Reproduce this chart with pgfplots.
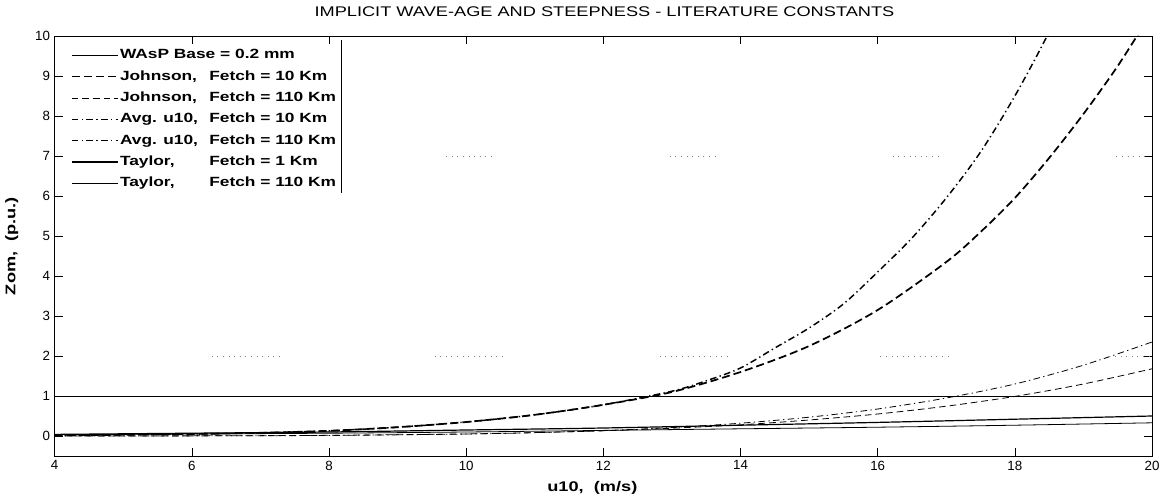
\documentclass[border=0pt]{standalone}
\usepackage{fontspec}
\setmainfont{Liberation Sans}
\newfontfamily\widesans{Liberation Sans}[FakeStretch=1.3]
\usepackage{pgfplots}
\pgfplotsset{compat=1.18}

\begin{document}
\begin{tikzpicture}
\begin{axis}[
    at={(0pt,0pt)}, anchor=south west,
    scale only axis, width=823pt, height=315pt,
    xmin=4, xmax=20, ymin=-0.5, ymax=10,
    xtick={4,6,...,20}, ytick={0,1,...,10},
    tick align=inside, major tick length=6pt,
    tick style={black, line width=0.5pt},
    axis line style={line width=0.6pt},
    unbounded coords=jump,
    /pgf/number format/assume math mode=true,
    tick label style={font=\fontsize{10}{12}\selectfont},
    every axis title shift=0pt,
    title={IMPLICIT WAVE-AGE AND STEEPNESS - LITERATURE CONSTANTS},
    title style={at={(axis description cs:0.501,1.057)}, anchor=center,
        font=\widesans\fontsize{10.5}{12}\selectfont},
    xlabel={u10,\ \ (m/s)},
    ylabel={Zom,\ \ (p.u.)},
    every axis x label/.style={at={(axis description cs:0.49,-0.076)}, anchor=center,
        font=\widesans\bfseries\fontsize{10.5}{12}\selectfont},
    every axis y label/.style={at={(axis description cs:-0.0392,0.5)}, anchor=center, rotate=90,
        font=\widesans\bfseries\fontsize{10.5}{12}\selectfont},
    legend style={at={(0,1)}, anchor=north west, draw=none, fill=none,
        inner xsep=12pt, inner ysep=9pt, row sep=5.5pt,
        font=\widesans\bfseries\fontsize{10}{12}\selectfont,
        nodes={inner xsep=1pt, inner ysep=0.5pt, text height=7.5pt, text depth=2pt}},
    legend cell align=left,
    legend image code/.code={\draw[#1] (0pt,0pt) -- (34.5pt,0pt);},
]

% WAsP base
\addplot[black, line width=0.6pt] coordinates {(4,1) (20,1)};
\addlegendentry{WAsP Base = 0.2 mm}

% Johnson, fetch 10 km
\addplot[black, line width=1.3pt, dash pattern=on 6pt off 3pt, smooth] coordinates {
    (4,0.02) (5,0.03) (6,0.05) (7,0.08) (8,0.13) (9,0.22) (10,0.35) (11,0.53)
    (12,0.78) (13,1.1) (14,1.6) (15,2.25) (16,3.15) (17,4.35) (17.5,5.1)
    (18,5.95) (18.5,6.95) (19,8.05) (19.5,9.25) (20,10.6)};
\addlegendentry{\makebox[67pt][l]{Johnson,}Fetch = 10 Km}

% Johnson, fetch 110 km
\addplot[black, line width=0.6pt, dash pattern=on 5pt off 3pt, smooth] coordinates {
    (4,0.0005) (6,0.004) (8,0.017) (10,0.052) (11,0.085) (12,0.13) (13,0.195)
    (14,0.28) (15,0.40) (16,0.55) (17,0.745) (18,0.99) (19,1.30) (20,1.68)};
\addlegendentry{\makebox[67pt][l]{Johnson,}Fetch = 110 Km}

% Avg. u10, fetch 10 km
\addplot[black, line width=1.1pt, dash pattern=on 5pt off 2.5pt on 1pt off 2.5pt, smooth] coordinates {
    (4,0.02) (5,0.03) (6,0.05) (7,0.08) (8,0.13) (9,0.22) (10,0.35) (11,0.53)
    (12,0.78) (13,1.12) (13.5,1.38) (14,1.7) (14.5,2.2) (15,2.7) (15.5,3.3)
    (16,4.1) (16.5,4.95) (17,5.95) (17.5,7.1) (18,8.5) (18.5,10.1) (19,11.9) (20,16)};
\addlegendentry{\makebox[67pt][l]{Avg. u10,}Fetch = 10 Km}

% Avg. u10, fetch 110 km
\addplot[black, line width=0.6pt, dash pattern=on 5pt off 2.5pt on 1pt off 2.5pt, smooth] coordinates {
    (4,0.0003) (6,0.003) (8,0.014) (10,0.049) (11,0.083) (12,0.135) (13,0.211)
    (14,0.32) (15,0.47) (16,0.675) (17,0.95) (18,1.30) (19,1.77) (20,2.35)};
\addlegendentry{\makebox[67pt][l]{Avg. u10,}Fetch = 110 Km}

% Taylor, fetch 1 km
\addplot[black, line width=0.9pt, smooth] coordinates {
    (4,0.04) (6,0.07) (8,0.1) (10,0.15) (12,0.2) (14,0.27) (16,0.34) (18,0.42) (20,0.5)};
\addlegendentry{\makebox[67pt][l]{Taylor,}Fetch = 1 Km}

% Taylor, fetch 110 km
\addplot[black, line width=0.6pt, smooth] coordinates {
    (4,0.03) (6,0.05) (8,0.07) (10,0.1) (12,0.14) (14,0.18) (16,0.22) (18,0.27) (20,0.33)};
\addlegendentry{\makebox[67pt][l]{Taylor,}Fetch = 110 Km}

% fragments of the dotted grid
\addplot[forget plot, gray, line width=0.6pt, dash pattern=on 0.6pt off 3.6pt] coordinates {
    (6.29,2) (7.32,2) (8,nan) (9.54,2) (10.59,2) (11,nan) (12.82,2) (13.84,2) (14,nan)
    (16.04,2) (17.08,2) (18,nan) (19.38,2) (19.96,2)};
\addplot[forget plot, gray, line width=0.6pt, dash pattern=on 0.6pt off 3.6pt] coordinates {
    (9.71,7) (10.41,7) (11,nan) (12.97,7) (13.66,7) (14,nan)
    (16.22,7) (16.90,7) (18,nan) (19.48,7) (19.96,7)};

% right edge of the legend box
\draw[line width=0.6pt] (rel axis cs:0.2616,0.99) -- (rel axis cs:0.2616,0.626);
\end{axis}
\pgfresetboundingbox
\path (-41pt,-33pt) rectangle (830.5pt,342pt);
\end{tikzpicture}
\end{document}
